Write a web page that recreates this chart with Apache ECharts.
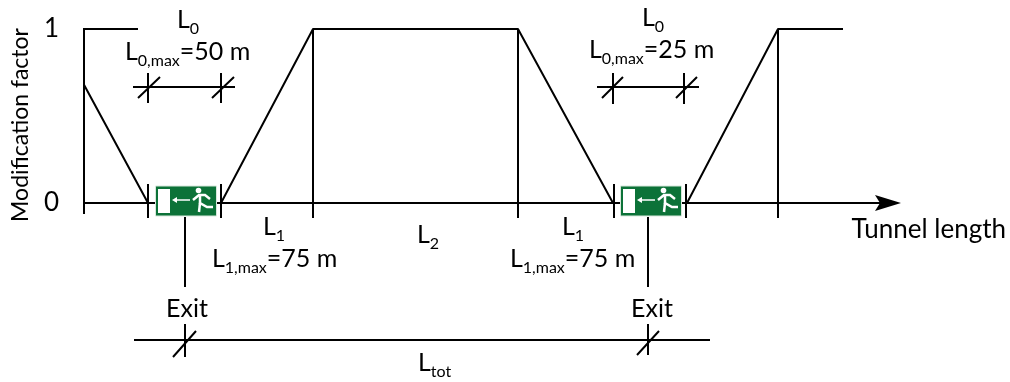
<!DOCTYPE html>
<html>
<head>
<meta charset="utf-8">
<style>
html, body { margin: 0; padding: 0; background: #fff; }
#chart { width: 1010px; height: 382px; }
</style>
<script src="https://cdn.jsdelivr.net/npm/echarts@6/dist/echarts.min.js"></script>
</head>
<body>
<div id="chart"></div>
<script>
// modification factor curve, x along the tunnel, y is the factor
const factorX = [75, 138, null, 84, 148, null, 221, 313, 518, 613, null, 687, 778, 843]
const factorY = [1, 1, null, 0.68, 0, null, 0, 1, 1, 0, null, 0, 1, 1]

// axis stub left of the y axis
const stubX = [75, 84]
const stubY = [0, 0]

// ticks and dimension lines, y is measured down from the top of the figure
const markX = [
  84, 84, null, 313, 313, null, 518, 518, null, 778, 778, null,
  148, 148, null, 221, 221, null, 614, 614, null, 686, 686, null,
  148, 148, null, 221, 221, null, 613, 613, null, 684, 684, null,
  133, 235, null, 597, 699, null,
  138, 160, null, 212, 234, null, 602, 623, null, 676, 697, null,
  185, 185, null, 648, 648, null,
  134, 710, null, 185, 185, null, 648, 648, null, 173, 196, null, 637, 659
]
const markY = [
  29, 214, null, 29, 218, null, 29, 218, null, 29, 218, null,
  184, 218, null, 184, 218, null, 184, 218, null, 184, 218, null,
  73, 103, null, 73, 103, null, 73, 104, null, 73, 104, null,
  87, 87, null, 87, 87, null,
  98, 77, null, 98, 77, null, 98, 77, null, 98, 77, null,
  217, 287, null, 217, 287, null,
  340, 340, null, 324, 357, null, 324, 355, null, 357, 331, null, 355, 331
]

const exitX = [186, 651]
const exitY = [201, 201]

const labelX = [177, 125, 642, 589, 263, 212, 562, 510, 417, 166, 631, 418]
const labelY = [37, 69, 35, 67, 244, 276, 244, 276, 252, 326, 326, 380]
const labelText = [
  '{m|L}{s|0}', '{m|L}{s|0,max}{m|=50 m}',
  '{m|L}{s|0}', '{m|L}{s|0,max}{m|=25 m}',
  '{m|L}{s|1}', '{m|L}{s|1,max}{m|=75 m}',
  '{m|L}{s|1}', '{m|L}{s|1,max}{m|=75 m}',
  '{m|L}{s|2}', '{m|Exit}', '{m|Exit}', '{m|L}{s|tot}'
]

const INK = '#000'
const FONT = 'Lato, "Open Sans", sans-serif'

function pairs(xs, ys) {
  return xs.map((x, i) => (x === null ? [null, null] : [x, ys[i]]))
}

function renderExitSign(params, api) {
  const c = api.coord([api.value(0), api.value(1)])
  const stroke = { stroke: '#fff', lineWidth: 2.5, fill: null }
  const poly = pts => ({
    type: 'polyline',
    shape: { points: pts.map(p => [c[0] + p[0], c[1] + p[1]]) },
    style: stroke
  })
  return {
    type: 'group',
    children: [
      {
        type: 'rect',
        shape: { x: c[0] - 30.5, y: c[1] - 15, width: 61, height: 30 },
        style: { fill: '#0c7238', stroke: '#d8e8dc', lineWidth: 1 }
      },
      {
        type: 'rect',
        shape: { x: c[0] - 28, y: c[1] - 12, width: 12, height: 24 },
        style: { fill: '#fff' }
      },
      {
        type: 'polyline',
        shape: { points: [[-11, -1], [4, -1]].map(p => [c[0] + p[0], c[1] + p[1]]) },
        style: { stroke: '#fff', lineWidth: 1.5, fill: null }
      },
      {
        type: 'polygon',
        shape: { points: [[-14, -1], [-9, -4], [-9, 2]].map(p => [c[0] + p[0], c[1] + p[1]]) },
        style: { fill: '#fff' }
      },
      {
        type: 'circle',
        shape: { cx: c[0] + 12.5, cy: c[1] - 10.5, r: 2.8 },
        style: { fill: '#fff' }
      },
      poly([[7, -1], [13, -6], [19, -6], [24, -2]]),
      poly([[14, -6], [14, 2], [21, 6], [27, 6]]),
      poly([[14, 2], [13, 11]])
    ]
  }
}

const chart = echarts.init(document.getElementById('chart'))
chart.setOption({
  animation: false,
  grid: { left: 84, top: 29, width: 804, height: 174, containLabel: false, outerBoundsMode: 'none' },
  xAxis: {
    type: 'value',
    min: 84,
    max: 888,
    name: 'Tunnel length',
    nameLocation: 'end',
    nameGap: 118,
    nameTextStyle: {
      color: INK, fontFamily: FONT, fontSize: 26,
      align: 'right', verticalAlign: 'top', padding: [14, 0, 0, 0]
    },
    axisLine: {
      onZero: false,
      symbol: ['none', 'path://M8 0 L16 26 L8 21 L0 26 Z'],
      symbolSize: [16, 26],
      lineStyle: { color: INK, width: 2 }
    },
    axisTick: { show: false },
    axisLabel: { show: false },
    splitLine: { show: false }
  },
  yAxis: [
    {
      type: 'value',
      min: 0,
      max: 1,
      interval: 1,
      name: 'Modification factor',
      nameLocation: 'middle',
      nameRotate: 90,
      nameGap: 52,
      nameTextStyle: { color: INK, fontFamily: FONT, fontSize: 23, padding: [0, 18, 0, 0] },
      axisLine: { show: true, onZero: false, lineStyle: { color: INK, width: 2 } },
      axisTick: { show: false },
      axisLabel: { color: INK, fontFamily: FONT, fontSize: 26, margin: 25 },
      splitLine: { show: false }
    },
    {
      type: 'value',
      min: 29,
      max: 203,
      inverse: true,
      show: false
    }
  ],
  series: [
    {
      type: 'line',
      data: pairs(factorX, factorY),
      showSymbol: false,
      clip: false,
      silent: true,
      lineStyle: { color: INK, width: 2 }
    },
    {
      type: 'line',
      data: pairs(stubX, stubY),
      showSymbol: false,
      clip: false,
      silent: true,
      lineStyle: { color: INK, width: 2 }
    },
    {
      type: 'line',
      yAxisIndex: 1,
      data: pairs(markX, markY),
      showSymbol: false,
      clip: false,
      silent: true,
      lineStyle: { color: INK, width: 2 }
    },
    {
      type: 'custom',
      z: 5,
      silent: true,
      renderItem: renderExitSign,
      data: pairs(exitX, exitY),
      yAxisIndex: 1
    },
    {
      type: 'scatter',
      yAxisIndex: 1,
      symbolSize: 0,
      clip: false,
      silent: true,
      itemStyle: { opacity: 1 },
      data: labelX.map((x, i) => ({ value: [x, labelY[i]], text: labelText[i] })),
      label: {
        show: true,
        position: 'inside',
        align: 'left',
        verticalAlign: 'bottom',
        color: INK,
        opacity: 1,
        formatter: p => p.data.text,
        rich: {
          m: { fontFamily: FONT, fontSize: 25, color: INK, lineHeight: 26, verticalAlign: 'bottom', padding: [0, 0, 5, 0] },
          s: { fontFamily: FONT, fontSize: 16, color: INK, lineHeight: 14, verticalAlign: 'bottom' }
        }
      }
    }
  ]
})
</script>
</body>
</html>
